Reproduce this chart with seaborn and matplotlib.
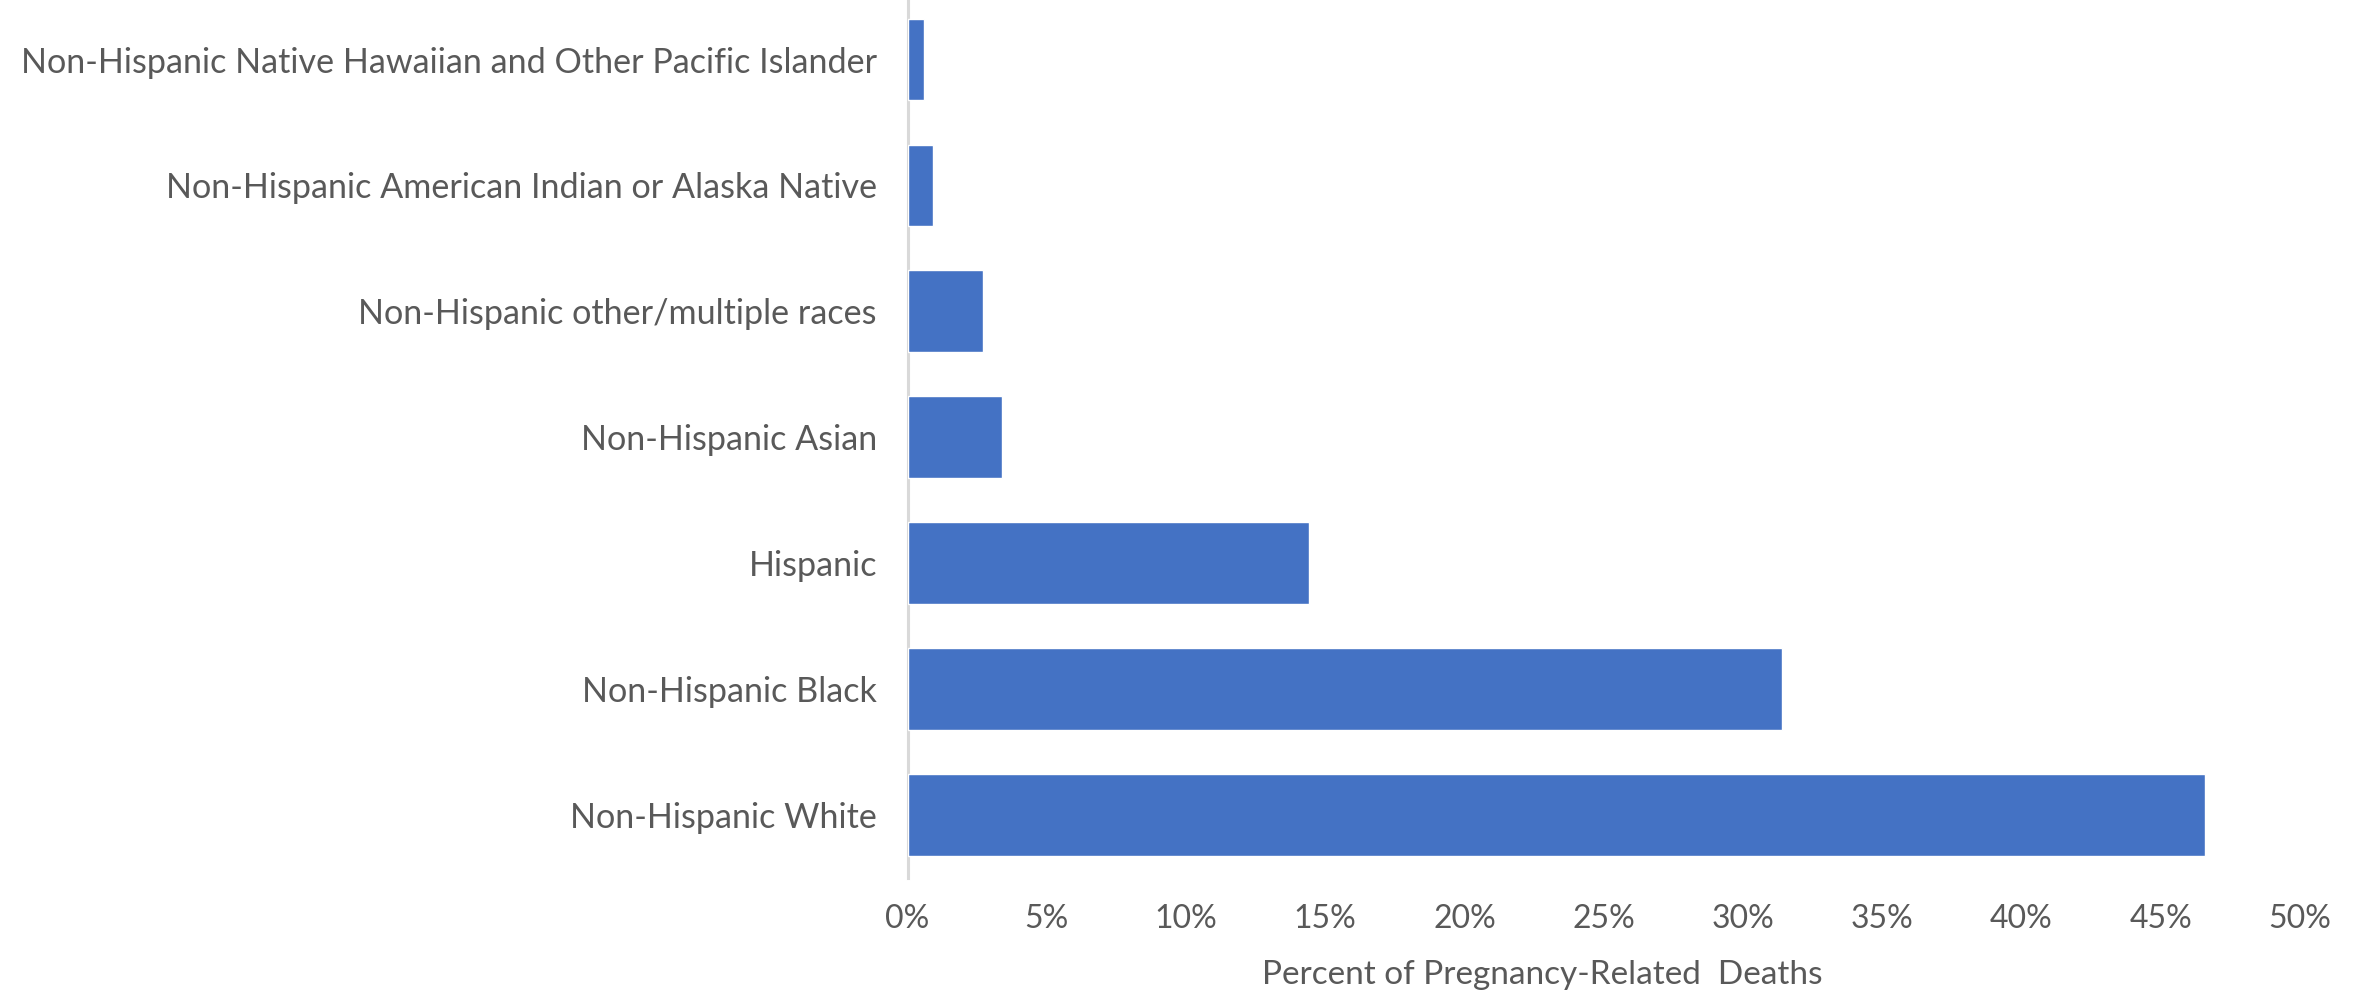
import matplotlib
matplotlib.use("Agg")
import matplotlib.pyplot as plt
import seaborn as sns
import pandas as pd
from matplotlib.ticker import PercentFormatter

# Share of pregnancy-related deaths by race/ethnicity
groups = [
    "Non-Hispanic Native Hawaiian and Other Pacific Islander",
    "Non-Hispanic American Indian or Alaska Native",
    "Non-Hispanic other/multiple races",
    "Non-Hispanic Asian",
    "Hispanic",
    "Non-Hispanic Black",
    "Non-Hispanic White",
]
percent = [0.6, 0.9, 2.7, 3.4, 14.4, 31.4, 46.6]
x_ticks = [0, 5, 10, 15, 20, 25, 30, 35, 40, 45, 50]
x_title = "Percent of Pregnancy-Related  Deaths"

df = pd.DataFrame({"group": groups, "percent": percent})

sns.set_theme(style="white")
plt.rcParams["font.family"] = ["Lato", "DejaVu Sans"]

text_color = "#595959"
bar_color = "#4472C4"

fig = plt.figure(figsize=(23.57, 9.94), dpi=100)
ax = fig.add_axes([907.5 / 2357, 116 / 994, (2300 - 907.5) / 2357, 881.4 / 994])

sns.barplot(data=df, x="percent", y="group", order=groups, orient="h",
            color=bar_color, saturation=1, width=0.65, ax=ax)

ax.set_xlim(0, 50)
ax.set_ylim(6.5, -0.5)
ax.set_xticks(x_ticks)
ax.xaxis.set_major_formatter(PercentFormatter(decimals=0))
ax.tick_params(axis="x", length=0, pad=19, labelsize=23, labelcolor=text_color)
ax.tick_params(axis="y", length=0, pad=22, labelsize=24.6, labelcolor=text_color)
ax.set_ylabel("")
ax.set_xlabel(x_title, fontsize=24, color=text_color)
ax.xaxis.set_label_coords(0.4557, -0.093)

for side in ["top", "right", "bottom"]:
    ax.spines[side].set_visible(False)
ax.spines["left"].set_color("#d9d9d9")
ax.spines["left"].set_linewidth(2.2)
ax.spines["left"].set_zorder(0)

fig.savefig("out.png", dpi=100, facecolor="white")
